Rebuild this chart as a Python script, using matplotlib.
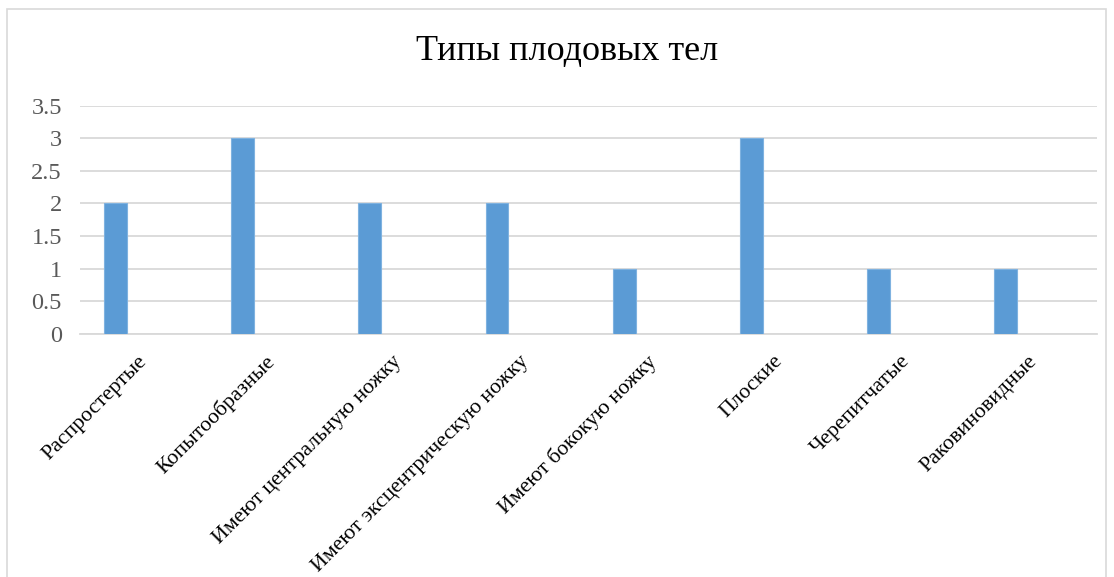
import matplotlib.pyplot as plt
import numpy as np
from matplotlib.patches import Rectangle
from matplotlib.transforms import ScaledTranslation

# данные
kategorii = ['Распростертые', 'Копытообразные', 'Имеют центральную ножку',
             'Имеют эксцентрическую ножку', 'Имеют бококую ножку', 'Плоские',
             'Черепитчатые', 'Раковиновидные']
znacheniya = [2, 3, 2, 2, 1, 3, 1, 1]
y_ticks = [0, 0.5, 1, 1.5, 2, 2.5, 3, 3.5]

plt.rcParams['font.family'] = ['Liberation Serif', 'DejaVu Serif']

fig = plt.figure(figsize=(11.14, 5.77), dpi=100)
ax = fig.add_axes([0.0718, 0.4217, 0.9129, 0.3951])

x = np.arange(len(kategorii))
ax.bar(x - 0.22, znacheniya, width=0.18, color='#5B9BD5',
       edgecolor='#7FB2E0', linewidth=0.8, zorder=3)

ax.set_xlim(-0.5, len(kategorii) - 0.5)
ax.set_ylim(0, 3.5)
ax.set_yticks(y_ticks)
ax.set_yticklabels(['0', '0.5', '1', '1.5', '2', '2.5', '3', '3.5'])
ax.yaxis.grid(True, color='#D9D9D9', linewidth=1.3, zorder=0)
ax.set_xticks(x)
ax.set_xticklabels(kategorii, rotation=45, ha='right', va='top',
                   rotation_mode='anchor', fontsize=15.7, color='black')
ax.tick_params(axis='x', length=0, pad=13)
ax.tick_params(axis='y', length=0, pad=13, labelsize=17.5, labelcolor='#595959')
# сдвиг подписей влево
sdvig = ScaledTranslation(-0.06, 0, fig.dpi_scale_trans)
for lab in ax.get_xticklabels():
    lab.set_transform(lab.get_transform() + sdvig)
for s in ['top', 'right', 'left']:
    ax.spines[s].set_visible(False)
ax.spines['bottom'].set_color('#D9D9D9')
ax.spines['bottom'].set_linewidth(1.3)

fig.text(0.509, 0.91, 'Типы плодовых тел', ha='center', va='center',
         fontsize=26, color='black')

# рамка диаграммы
fig.patches.append(Rectangle((7 / 1114, -0.01), 1099 / 1114, 1 - 9 / 577 + 0.01,
                             transform=fig.transFigure, fill=False,
                             edgecolor='#D9D9D9', linewidth=1.2))

fig.savefig('out.png', dpi=100)
